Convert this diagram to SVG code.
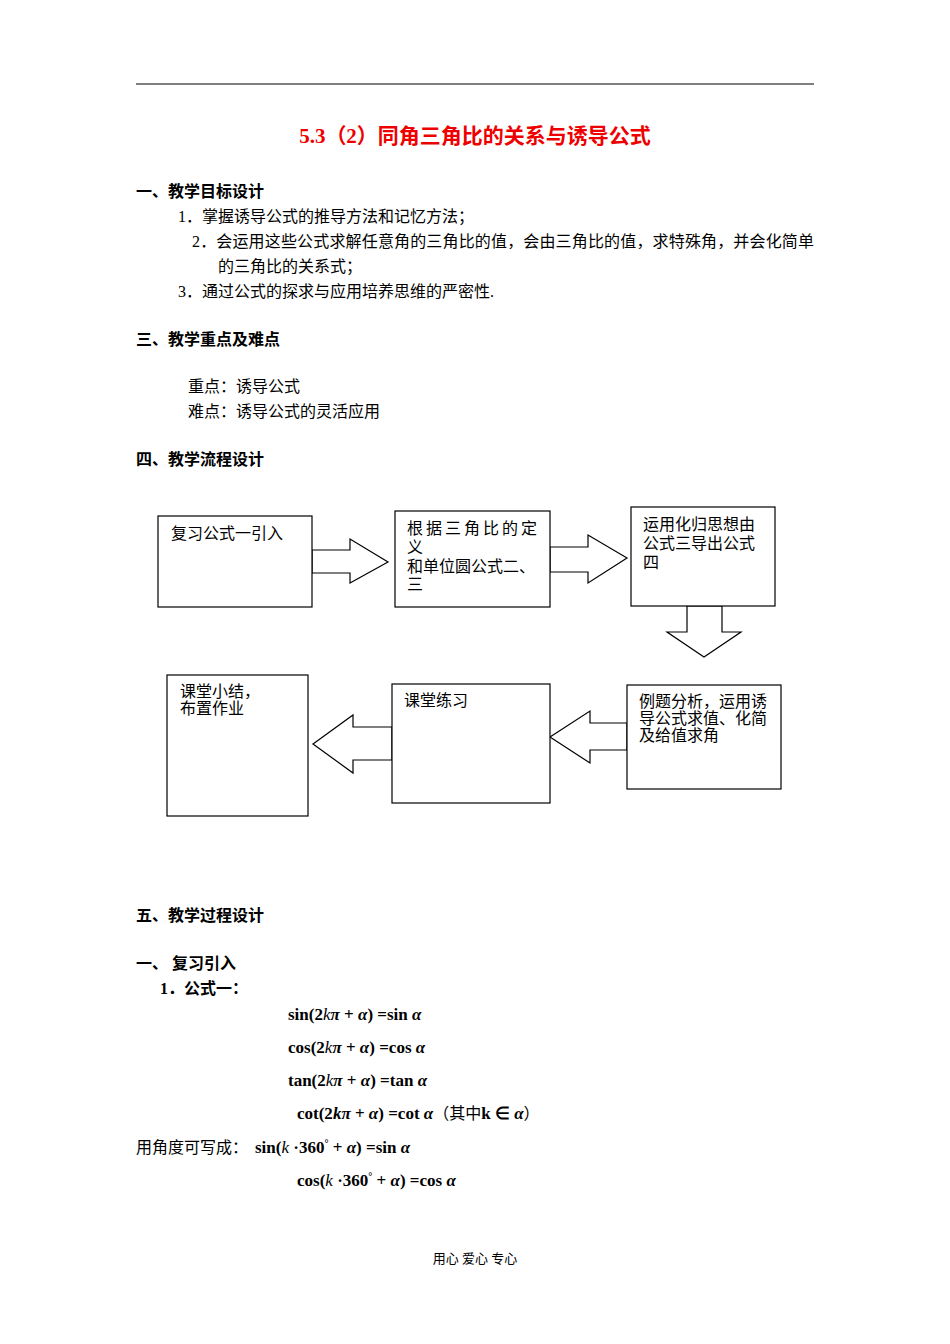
<svg xmlns="http://www.w3.org/2000/svg" width="950" height="1344" viewBox="0 0 950 1344">
<style>
text{font-family:"Liberation Serif","Noto Sans CJK SC",serif;font-size:16px;fill:#000}
.h{font-weight:bold}
.m{font-family:"Liberation Serif",serif;font-weight:bold;font-size:17px}
.box,.arr{fill:#fff;stroke:#000;stroke-width:1.2}
</style>
<rect width="950" height="1344" fill="#fff"/>
<line x1="136" y1="84" x2="814" y2="84" stroke="#000" stroke-width="1.2"/>
<text x="475" y="143" text-anchor="middle" style="fill:#e00;font-size:21px;font-weight:bold">5.3（2）同角三角比的关系与诱导公式</text>
<text x="136" y="197" class="h">一、教学目标设计</text>
<text x="178" y="222">1．掌握诱导公式的推导方法和记忆方法；</text>
<text x="192" y="247" textLength="622" lengthAdjust="spacing">2．会运用这些公式求解任意角的三角比的值，会由三角比的值，求特殊角，并会化简单</text>
<text x="218" y="272">的三角比的关系式；</text>
<text x="178" y="297">3．通过公式的探求与应用培养思维的严密性.</text>
<text x="136" y="345" class="h">三、教学重点及难点</text>
<text x="188" y="392">重点：诱导公式</text>
<text x="188" y="417">难点：诱导公式的灵活应用</text>
<text x="136" y="465" class="h">四、教学流程设计</text>
<g id="connectors">
<polygon class="arr" points="312,550 350,550 350,539 388,562 350,583 350,573 312,573"/>
<polygon class="arr" points="550,547 588,547 588,535 627,558 588,583 588,572 550,572"/>
<polygon class="arr" points="687,606 722,606 722,632 741,632 704,657 667,632 687,632"/>
<polygon class="arr" points="627,723 590,723 590,711 550,737 590,763 590,750 627,750"/>
<polygon class="arr" points="392,727 353,727 353,715 313,744 353,773 353,760 392,760"/>
</g>
<g id="n1"><rect class="box" x="158" y="516" width="154" height="91"/><text x="171" y="539">复习公式一引入</text></g>
<g id="n2"><rect class="box" x="395" y="511" width="155" height="96"/><text x="407" y="534" textLength="130" lengthAdjust="spacing">根据三角比的定</text><text x="407" y="553">义</text><text x="407" y="572">和单位圆公式二、</text><text x="407" y="590">三</text></g>
<g id="n3"><rect class="box" x="631" y="507" width="144" height="99"/><text x="643" y="530">运用化归思想由</text><text x="643" y="549">公式三导出公式</text><text x="643" y="568">四</text></g>
<g id="n4"><rect class="box" x="167" y="675" width="141" height="141"/><text x="180" y="697">课堂小结，</text><text x="180" y="714">布置作业</text></g>
<g id="n5"><rect class="box" x="392" y="684" width="158" height="119"/><text x="404" y="706">课堂练习</text></g>
<g id="n6"><rect class="box" x="627" y="685" width="154" height="104"/><text x="639" y="707">例题分析，运用诱</text><text x="639" y="724">导公式求值、化简</text><text x="639" y="741">及给值求角</text></g>
<text x="136" y="921" class="h">五、教学过程设计</text>
<text x="136" y="969" class="h">一、  复习引入</text>
<text x="160" y="994" class="h">1．公式一：</text>
<text x="288" y="1020" class="m">sin(2<tspan font-style="italic" font-weight="normal">k</tspan><tspan font-style="italic">π</tspan> + <tspan font-style="italic">α</tspan>) =sin <tspan font-style="italic">α</tspan></text>
<text x="288" y="1053" class="m">cos(2<tspan font-style="italic" font-weight="normal">k</tspan><tspan font-style="italic">π</tspan> + <tspan font-style="italic">α</tspan>) =cos <tspan font-style="italic">α</tspan></text>
<text x="288" y="1086" class="m">tan(2<tspan font-style="italic" font-weight="normal">k</tspan><tspan font-style="italic">π</tspan> + <tspan font-style="italic">α</tspan>) =tan <tspan font-style="italic">α</tspan></text>
<text x="297" y="1119" class="m">cot(2<tspan font-style="italic">k</tspan><tspan font-style="italic">π</tspan> + <tspan font-style="italic">α</tspan>) =cot <tspan font-style="italic">α</tspan><tspan font-weight="normal" font-size="16" font-family="Noto Sans CJK SC,serif">（其中</tspan>k ∈ <tspan font-style="italic">α</tspan><tspan font-weight="normal" font-size="16" font-family="Noto Sans CJK SC,serif">）</tspan></text>
<text x="136" y="1153">用角度可写成：</text>
<text x="255" y="1153" class="m">sin(<tspan font-style="italic" font-weight="normal">k</tspan>  ·360<tspan dy="-6" font-size="10">°</tspan><tspan dy="6"> + </tspan><tspan font-style="italic">α</tspan>) =sin <tspan font-style="italic">α</tspan></text>
<text x="297" y="1186" class="m">cos(<tspan font-style="italic" font-weight="normal">k</tspan>  ·360<tspan dy="-6" font-size="10">°</tspan><tspan dy="6"> + </tspan><tspan font-style="italic">α</tspan>) =cos <tspan font-style="italic">α</tspan></text>
<text x="475" y="1263" text-anchor="middle" style="font-size:13px">用心  爱心  专心</text>
</svg>
